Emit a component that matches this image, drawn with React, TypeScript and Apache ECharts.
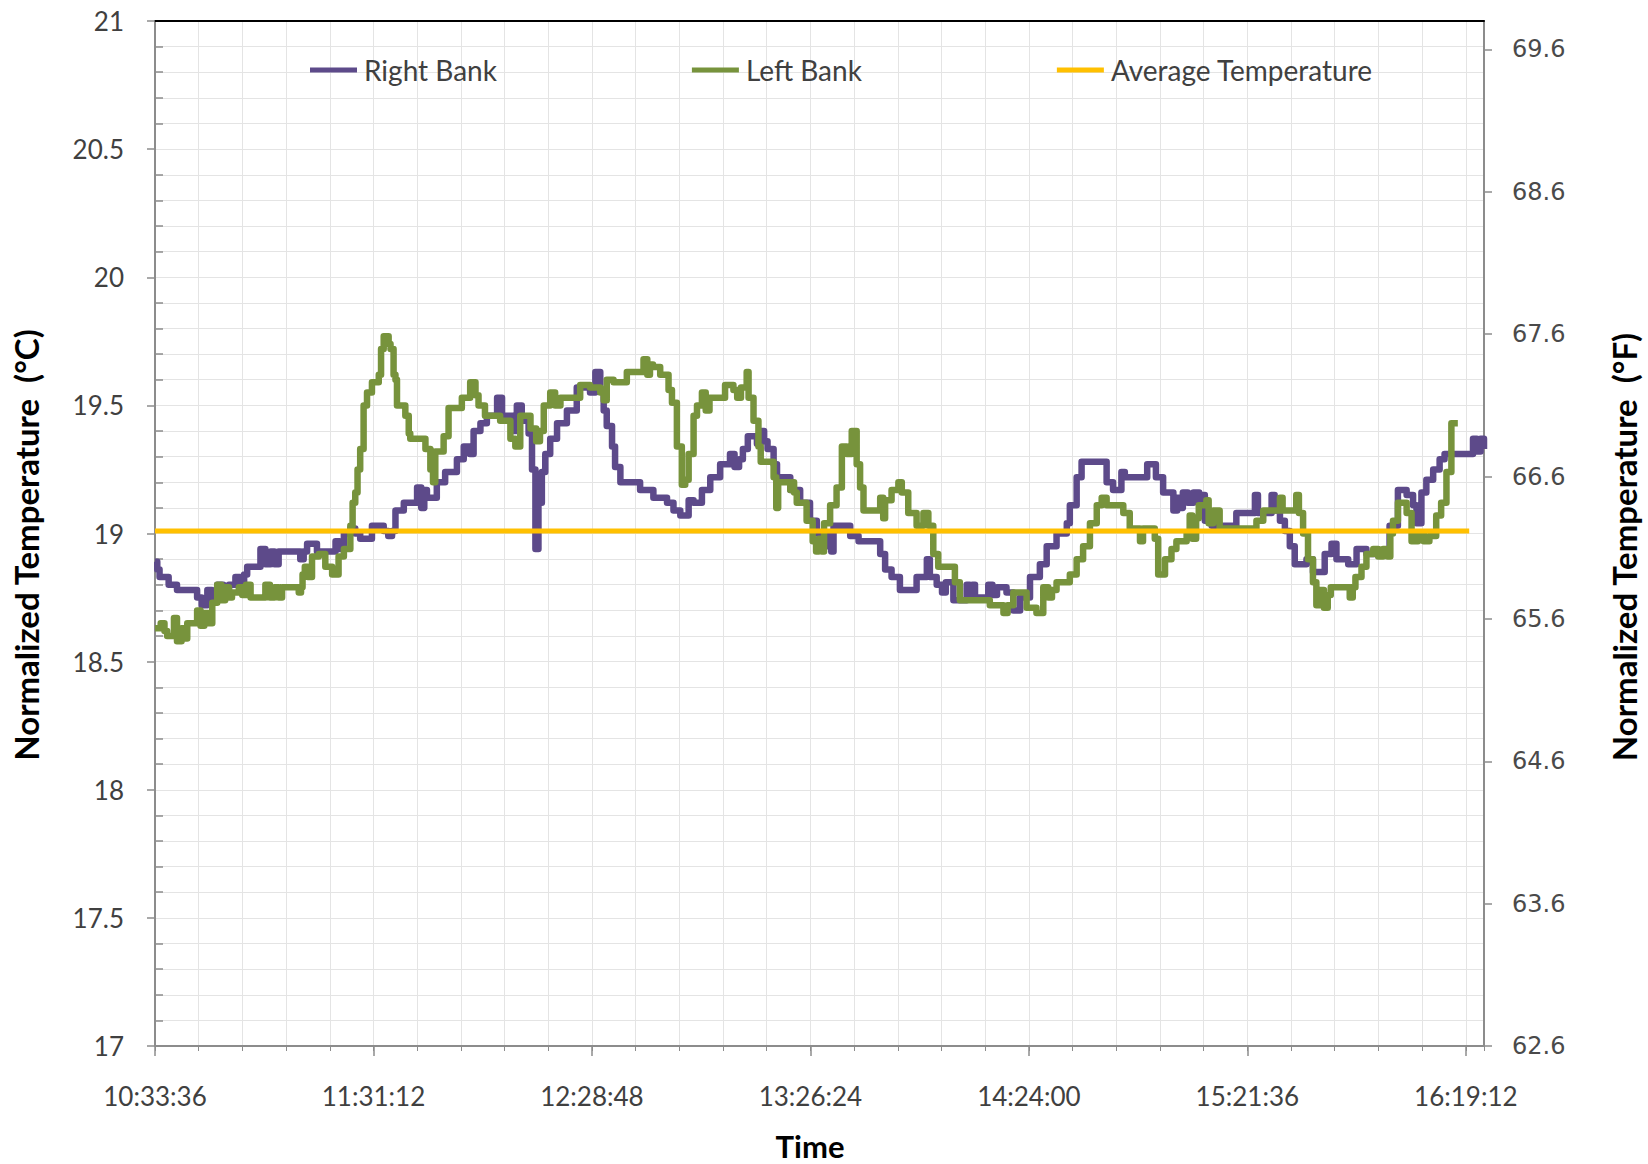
import React, { useEffect, useRef } from "react";
import * as echarts from "echarts";

// ---- Axis constants ----
const START_SEC = 38016; // 10:33:36
const END_SEC = 59040; // right edge of plot
const TICK_SEC = 3456; // 57:36 between labelled ticks
const MINOR_SEC = 691.2; // minor grid step
const celsiusMin = 17;
const celsiusMax = 21;
const celsiusStep = 0.5;
const fahrenheitBase = 62.6;
const fahrenheitSpan = 7.2;
const fahrenheitStep = 1;

// ---- Data: minutes after 10:33:36, temperatures in °C ----
const rightBankMin = [
  0, 0.6, 1.2, 3.6, 5.8, 11.1, 12.3, 13.8, 15.0, 16.4, 18.0, 19.5, 21.2, 22.5, 23.5, 24.3, 27.8, 29.1, 30.5, 31.5,
  32.6, 38.3, 39.2, 40.1, 42.7, 47.6, 48.6, 49.8, 51.5, 52.8, 54.1, 57.2, 60.3, 61.5, 62.5, 63.4, 65.6, 69.1, 70.2, 71.0,
  71.7, 74.3, 76.5, 79.6, 81.4, 83.0, 84.0, 85.8, 87.5, 90.2, 91.5, 94.5, 95.4, 96.7, 98.5, 99.4, 100.3, 101.1, 102.0, 102.9,
  104.2, 106.0, 108.6, 111.2, 114.7, 116.1, 117.4, 118.3, 119.1, 120.5, 121.3, 122.7, 127.9, 131.4, 135.0, 136.7, 138.5, 140.7, 142.0, 144.2,
  146.4, 149.0, 151.6, 152.8, 154.0, 155.0, 156.3, 158.7, 159.7, 160.6, 161.5, 163.1, 164.0, 167.5, 170.1, 172.7, 174.5, 176.2, 177.5, 178.3,
  178.9, 183.3, 185.5, 191.2, 192.5, 194.2, 196.4, 200.8, 203.5, 204.3, 206.1, 207.5, 208.5, 210.5, 214.0, 214.8, 215.5, 216.2, 219.7, 220.8,
  222.0, 224.5, 226.3, 228.1, 230.7, 233.3, 235.1, 237.7, 240.4, 241.2, 243.0, 244.3, 250.9, 252.6, 254.8, 255.7, 261.6, 263.9, 265.8, 268.5,
  269.5, 270.2, 271.0, 272.3, 273.8, 275.3, 276.0, 276.8, 278.6, 285.1, 290.0, 290.8, 294.4, 295.2, 296.6, 297.9, 299.2, 300.5, 303.6, 305.3,
  308.4, 310.2, 311.5, 314.6, 316.8, 319.4, 325.5, 327.7, 330.0, 331.7, 332.6, 333.9, 335.2, 337.0, 338.7, 340.0, 347.5, 348.5, 349.5, 350.4,
];
const rightBankTemp = [
  18.89, 18.86, 18.83, 18.8, 18.78, 18.75, 18.72, 18.78, 18.74, 18.8, 18.77, 18.8, 18.83, 18.8, 18.84, 18.87, 18.94, 18.88, 18.93, 18.88,
  18.93, 18.9, 18.93, 18.96, 18.93, 18.97, 18.94, 19.0, 19.02, 19.0, 18.98, 19.03, 19.01, 18.99, 19.01, 19.09, 19.12, 19.18, 19.1, 19.17,
  19.14, 19.2, 19.24, 19.29, 19.34, 19.31, 19.4, 19.43, 19.46, 19.53, 19.46, 19.4, 19.5, 19.44, 19.39, 19.25, 18.94, 19.12, 19.24, 19.31,
  19.37, 19.43, 19.48, 19.57, 19.55, 19.63, 19.56, 19.48, 19.42, 19.34, 19.26, 19.2, 19.17, 19.14, 19.12, 19.09, 19.07, 19.13, 19.12, 19.17,
  19.22, 19.27, 19.31, 19.26, 19.29, 19.33, 19.38, 19.35, 19.4, 19.36, 19.33, 19.27, 19.22, 19.17, 19.12, 19.05, 19.0, 18.95, 18.99, 18.93,
  19.03, 18.99, 18.97, 18.92, 18.86, 18.83, 18.78, 18.83, 18.9, 18.83, 18.8, 18.77, 18.81, 18.74, 18.8, 18.76, 18.8, 18.75, 18.8, 18.76,
  18.79, 18.77, 18.7, 18.75, 18.83, 18.88, 18.95, 19.0, 19.04, 19.11, 19.22, 19.28, 19.2, 19.17, 19.24, 19.22, 19.27, 19.22, 19.16, 19.09,
  19.14, 19.1, 19.16, 19.12, 19.16, 19.12, 19.15, 19.05, 19.03, 19.08, 19.15, 19.08, 19.15, 19.09, 19.05, 19.01, 18.95, 18.88, 18.9, 18.85,
  18.92, 18.96, 18.9, 18.88, 18.94, 18.92, 19.03, 19.17, 19.15, 19.11, 19.04, 19.16, 19.21, 19.25, 19.29, 19.31, 19.37, 19.32, 19.37, 19.33,
];

const leftBankMin = [
  0, 1.5, 2.5, 3.2, 5.0, 5.8, 7.0, 8.0, 8.5, 11.1, 12.0, 13.0, 14.0, 15.1, 16.4, 17.5, 18.5, 19.5, 20.3, 22.1,
  23.0, 24.0, 25.2, 29.1, 30.3, 31.5, 32.6, 33.5, 37.9, 38.5, 38.9, 39.5, 40.3, 41.4, 43.2, 44.9, 46.7, 48.4, 49.8, 51.5,
  52.1, 52.8, 53.4, 54.1, 55.0, 55.9, 57.2, 59.0, 59.6, 60.3, 61.6, 62.1, 62.9, 63.4, 63.8, 66.0, 66.9, 67.3, 71.3, 72.6,
  73.3, 73.9, 76.1, 77.4, 80.9, 83.1, 84.5, 85.3, 87.0, 91.0, 93.7, 95.0, 96.3, 99.0, 100.5, 101.5, 102.5, 104.2, 105.5, 106.9,
  112.1, 114.7, 117.4, 118.3, 119.1, 120.9, 124.4, 128.8, 129.8, 130.5, 131.3, 133.2, 135.4, 136.3, 137.6, 138.9, 139.8, 140.7, 142.0, 142.9,
  144.2, 145.2, 146.2, 150.3, 152.5, 153.5, 154.5, 156.0, 156.5, 157.8, 159.1, 159.7, 163.1, 163.8, 164.3, 167.5, 168.0, 168.5, 169.2, 171.8,
  173.4, 174.3, 175.0, 175.8, 176.4, 178.0, 179.7, 181.1, 182.4, 183.7, 185.0, 185.9, 186.8, 191.2, 192.0, 192.5, 194.2, 196.0, 196.9, 198.6,
  200.8, 202.6, 203.9, 205.2, 206.5, 210.9, 212.2, 220.1, 223.7, 224.8, 226.3, 229.8, 232.4, 234.2, 235.5, 236.5, 237.7, 241.2, 243.0, 244.7,
  246.5, 248.3, 249.6, 250.9, 255.3, 257.0, 259.7, 260.5, 263.6, 264.5, 266.3, 268.0, 269.3, 272.0, 272.8, 273.5, 274.5, 275.2, 277.2, 277.8,
  279.0, 280.7, 290.4, 292.2, 296.6, 297.3, 300.9, 301.6, 302.7, 304.0, 305.3, 306.2, 307.2, 308.2, 309.2, 310.0, 315.0, 315.8, 316.5, 318.1,
  319.4, 321.2, 322.5, 323.8, 325.0, 325.7, 326.4, 327.7, 330.0, 331.3, 333.0, 334.5, 336.0, 337.8, 339.1, 340.5, 341.8, 343.5,
];
const leftBankTemp = [
  18.63, 18.65, 18.62, 18.6, 18.67, 18.58, 18.63, 18.59, 18.65, 18.7, 18.64, 18.69, 18.65, 18.73, 18.8, 18.74, 18.79, 18.75, 18.77, 18.79,
  18.76, 18.8, 18.75, 18.8, 18.75, 18.79, 18.75, 18.79, 18.77, 18.79, 18.84, 18.87, 18.83, 18.91, 18.92, 18.87, 18.84, 18.91, 18.94, 19.03,
  19.12, 19.16, 19.25, 19.33, 19.5, 19.55, 19.59, 19.62, 19.72, 19.77, 19.74, 19.72, 19.62, 19.6, 19.5, 19.46, 19.39, 19.37, 19.33, 19.25,
  19.2, 19.32, 19.38, 19.49, 19.53, 19.59, 19.54, 19.5, 19.46, 19.44, 19.37, 19.34, 19.46, 19.41, 19.36, 19.4, 19.5, 19.55, 19.5, 19.53,
  19.58, 19.57, 19.55, 19.52, 19.6, 19.59, 19.63, 19.68, 19.62, 19.66, 19.65, 19.62, 19.56, 19.51, 19.34, 19.19, 19.21, 19.31, 19.46, 19.5,
  19.55, 19.48, 19.53, 19.58, 19.56, 19.53, 19.57, 19.63, 19.53, 19.44, 19.34, 19.28, 19.22, 19.1, 19.2, 19.17, 19.2, 19.16, 19.12, 19.05,
  18.97, 18.93, 18.98, 18.93, 19.04, 19.11, 19.18, 19.34, 19.31, 19.4, 19.27, 19.18, 19.09, 19.14, 19.06, 19.13, 19.17, 19.2, 19.16, 19.08,
  19.03, 19.08, 19.03, 18.92, 18.87, 18.81, 18.74, 18.72, 18.69, 18.72, 18.77, 18.71, 18.69, 18.79, 18.75, 18.78, 18.81, 18.84, 18.9, 18.95,
  19.04, 19.11, 19.14, 19.11, 19.08, 19.02, 18.97, 19.02, 18.98, 18.84, 18.9, 18.94, 18.97, 19.0, 19.07, 18.98, 19.06, 19.11, 19.13, 19.04,
  19.09, 19.02, 19.05, 19.09, 19.14, 19.09, 19.15, 19.08, 19.0, 18.9, 18.81, 18.72, 18.78, 18.71, 18.76, 18.79, 18.75, 18.79, 18.83, 18.87,
  18.92, 18.94, 18.91, 18.94, 18.91, 19.0, 19.05, 19.12, 19.08, 18.97, 19.0, 18.97, 18.99, 19.07, 19.12, 19.24, 19.43, 19.43,
];

const averageMin = [0, 346.5];
const averageTemp = [19.01, 19.01];

const seriesNames = ["Right Bank", "Left Bank", "Average Temperature"];
const seriesColors = ["#5d4a8a", "#77933c", "#ffc000"];

const toPairs = (mins: number[], temps: number[]) =>
  mins.map((m, i) => [START_SEC + m * 60, temps[i]]);

const pad = (n: number) => (n < 10 ? "0" + n : String(n));
const fmtTime = (sec: number) => {
  const s = Math.round(sec);
  const h = Math.floor(s / 3600);
  const m = Math.floor((s % 3600) / 60);
  const ss = s % 60;
  return `${pad(h)}:${pad(m)}:${pad(ss)}`;
};

const AXIS_GRAY = "#8c8c8c";
const GRID_GRAY = "#e4e4e4";
const LABEL_COLOR = "#404040";

export default function App() {
  const ref = useRef<HTMLDivElement>(null);

  useEffect(() => {
    if (!ref.current) return;
    const chart = echarts.init(ref.current, undefined, { renderer: "svg" });

    const option: any = {
      animation: false,
      backgroundColor: "#ffffff",
      textStyle: { fontFamily: "Lato" },
      grid: {
        left: 155,
        right: 164,
        top: 21,
        bottom: 118,
        containLabel: false,
        outerBoundsMode: "none",
      },
      legend: {
        data: seriesNames,
        left: 310,
        top: 56,
        padding: 0,
        icon: "rect",
        itemWidth: 47,
        itemHeight: 5,
        itemGap: 195,
        selectedMode: false,
        textStyle: { fontFamily: "Lato", fontSize: 28, color: LABEL_COLOR, padding: [0, 0, 0, 2] },
      },
      xAxis: [
        {
          type: "value",
          min: START_SEC,
          max: END_SEC,
          interval: TICK_SEC,
          position: "bottom",
          axisLine: { show: true, lineStyle: { color: AXIS_GRAY, width: 2 } },
          axisTick: { show: true, length: 10, lineStyle: { color: AXIS_GRAY, width: 1.5 } },
          axisLabel: {
            formatter: (v: number) => fmtTime(v),
            fontFamily: "Lato",
            fontSize: 26,
            color: LABEL_COLOR,
            margin: 37,
            showMaxLabel: false,
          },
          splitLine: { show: true, lineStyle: { color: GRID_GRAY, width: 1 } },
        },
        {
          type: "value",
          min: START_SEC,
          max: END_SEC,
          interval: MINOR_SEC,
          position: "bottom",
          axisLine: { show: false },
          axisTick: { show: true, length: 5, lineStyle: { color: AXIS_GRAY, width: 1 } },
          axisLabel: { show: false },
          splitLine: { show: true, lineStyle: { color: GRID_GRAY, width: 1 } },
        },
        {
          type: "value",
          min: START_SEC,
          max: END_SEC,
          position: "top",
          axisLine: { show: true, lineStyle: { color: "#000000", width: 2 } },
          axisTick: { show: false },
          axisLabel: { show: false },
          splitLine: { show: false },
        },
      ],
      yAxis: [
        {
          type: "value",
          min: celsiusMin,
          max: celsiusMax,
          interval: celsiusStep,
          position: "left",
          axisLine: { show: true, lineStyle: { color: AXIS_GRAY, width: 2 } },
          axisTick: { show: true, length: 8, lineStyle: { color: AXIS_GRAY, width: 1.5 } },
          axisLabel: {
            fontFamily: "Lato",
            fontSize: 26,
            color: LABEL_COLOR,
            margin: 31,
            formatter: (v: number) => String(v),
          },
          splitLine: { show: true, lineStyle: { color: GRID_GRAY, width: 1 } },
          minorSplitLine: { show: true, lineStyle: { color: GRID_GRAY, width: 1 } },
          minorTick: { show: false, splitNumber: 5 },
        },
        {
          type: "value",
          min: 0,
          max: fahrenheitSpan,
          interval: fahrenheitStep,
          position: "right",
          axisLine: { show: true, lineStyle: { color: AXIS_GRAY, width: 2 } },
          axisTick: { show: true, length: 8, lineStyle: { color: AXIS_GRAY, width: 1.5 } },
          axisLabel: {
            fontFamily: "DejaVu Sans",
            fontSize: 24,
            color: "#4a4a4a",
            margin: 28,
            showMaxLabel: false,
            formatter: (v: number) => (v + fahrenheitBase).toFixed(1),
          },
          splitLine: { show: false },
        },
        {
          type: "value",
          min: celsiusMin,
          max: celsiusMax,
          interval: celsiusStep,
          position: "left",
          axisLine: { show: false },
          axisTick: { show: false, inside: true },
          axisLabel: { show: false },
          splitLine: { show: false },
          minorTick: { show: true, splitNumber: 5, length: 8, lineStyle: { color: AXIS_GRAY, width: 1.5 } },
        },
      ],
      graphic: [
        {
          type: "text",
          x: 26,
          y: 545,
          rotation: Math.PI / 2,
          style: {
            text: "Normalized Temperature  (°C)",
            fontFamily: "Lato",
            fontWeight: "bold",
            fontSize: 33,
            fill: "#000000",
            align: "center",
            verticalAlign: "middle",
          },
        },
        {
          type: "text",
          x: 1624,
          y: 547,
          rotation: Math.PI / 2,
          style: {
            text: "Normalized Temperature  (°F)",
            fontFamily: "Lato",
            fontWeight: "bold",
            fontSize: 33,
            fill: "#000000",
            align: "center",
            verticalAlign: "middle",
          },
        },
        {
          type: "text",
          x: 810,
          y: 1146,
          style: {
            text: "Time",
            fontFamily: "Lato",
            fontWeight: "bold",
            fontSize: 31,
            fill: "#000000",
            align: "center",
            verticalAlign: "middle",
          },
        },
      ],
      series: [
        {
          name: seriesNames[0],
          type: "line",
          xAxisIndex: 0,
          yAxisIndex: 0,
          step: "end",
          symbol: "none",
          showSymbol: false,
          data: toPairs(rightBankMin, rightBankTemp),
          lineStyle: { color: seriesColors[0], width: 6.5, join: "round" },
          itemStyle: { color: seriesColors[0] },
          z: 3,
        },
        {
          name: seriesNames[1],
          type: "line",
          xAxisIndex: 0,
          yAxisIndex: 0,
          step: "end",
          symbol: "none",
          showSymbol: false,
          data: toPairs(leftBankMin, leftBankTemp),
          lineStyle: { color: seriesColors[1], width: 6.5, join: "round" },
          itemStyle: { color: seriesColors[1] },
          z: 4,
        },
        {
          name: seriesNames[2],
          type: "line",
          xAxisIndex: 0,
          yAxisIndex: 0,
          symbol: "none",
          showSymbol: false,
          data: toPairs(averageMin, averageTemp),
          lineStyle: { color: seriesColors[2], width: 5 },
          itemStyle: { color: seriesColors[2] },
          z: 5,
        },
      ],
    };

    chart.setOption(option);
    return () => {
      chart.dispose();
    };
  }, []);

  return (
    <div
      ref={ref}
      style={{ position: "fixed", left: 0, top: 0, width: 1648, height: 1164, background: "#fff" }}
    />
  );
}
